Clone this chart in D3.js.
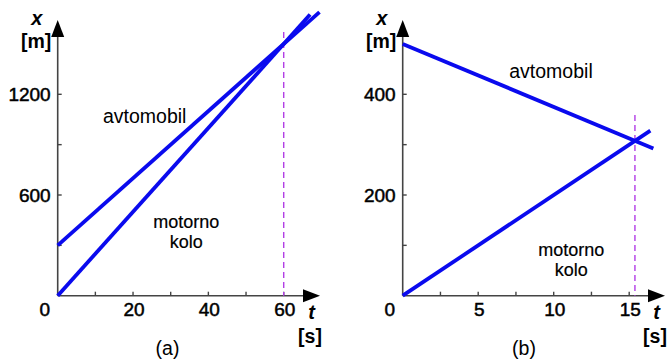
<!DOCTYPE html>
<html>
<head>
<meta charset="utf-8">
<script src="https://cdn.jsdelivr.net/npm/d3@7"></script>
<style>
  body { margin: 0; background: #fff; }
  svg { display: block; font-family: "Liberation Sans", Arial, sans-serif; }
  .tick-label { font-size: 19px; fill: #000; stroke: #000; stroke-width: 0.5px; }
  .name { font-size: 19.5px; fill: #000; }
  .name2 { font-size: 18px; fill: #000; stroke: #000; stroke-width: 0.2px; }
  .unit { font-size: 19.5px; font-weight: bold; fill: #000; }
  .var { font-size: 20px; font-weight: bold; font-style: italic; fill: #000; }
</style>
</head>
<body>
<script>
// panel (a): both move the same way
var aTicksX = [0, 20, 40, 60];
var aMinorX = [10, 30, 50];
var aTicksY = [0, 600, 1200];
var aMinorY = [300, 900];
var aCar = [[0, 300], [69.5, 1690]];
var aMoto = [[0, 0], [67, 1675]];
var aMeet = 60;

// panel (b): moving towards each other
var bTicksX = [0, 5, 10, 15];
var bMinorX = [2.5, 7.5, 12.5];
var bTicksY = [0, 200, 400];
var bMinorY = [100, 300];
var bCar = [[0, 500], [16.6, 292.5]];
var bMoto = [[0, 0], [16.4, 328]];
var bMeet = 15.38;

var W = 667, H = 363;
var svg = d3.select('body').append('svg').attr('width', W).attr('height', H);

function label(g, cls, x, y, txt, anchor) {
    return g.append('text').attr('class', cls)
        .attr('x', x).attr('y', y)
        .attr('text-anchor', anchor || 'middle').text(txt);
}

function drawPanel(cfg) {
    var g = svg.append('g');
    var x = d3.scaleLinear().domain(cfg.domX).range(cfg.rangeX);
    var y = d3.scaleLinear().domain(cfg.domY).range(cfg.rangeY);
    var x0 = x(0), y0 = y(0);

    // axes lines
    g.append('line').attr('x1', x0).attr('x2', cfg.arrowX - 12)
        .attr('y1', y0).attr('y2', y0)
        .attr('stroke', '#444').attr('stroke-width', 1.6);
    g.append('line').attr('x1', x0).attr('x2', x0)
        .attr('y1', y0).attr('y2', cfg.arrowY + 12)
        .attr('stroke', '#444').attr('stroke-width', 1.6);
    // arrow heads
    g.append('path')
        .attr('d', 'M' + cfg.arrowX + ',' + y0 + 'L' + (cfg.arrowX - 17) + ',' + (y0 - 6.5) +
            'L' + (cfg.arrowX - 17) + ',' + (y0 + 6.5) + 'Z')
        .attr('fill', '#000');
    g.append('path')
        .attr('d', 'M' + x0 + ',' + cfg.arrowY + 'L' + (x0 - 6.5) + ',' + (cfg.arrowY + 17) +
            'L' + (x0 + 6.5) + ',' + (cfg.arrowY + 17) + 'Z')
        .attr('fill', '#000');

    // ticks (inward)
    cfg.ticksX.concat(cfg.minorX).forEach(function (t) {
        if (t === 0) return;
        g.append('line').attr('x1', x(t)).attr('x2', x(t))
            .attr('y1', y0).attr('y2', y0 - 4)
            .attr('stroke', '#444').attr('stroke-width', 1.4);
    });
    cfg.ticksY.concat(cfg.minorY).forEach(function (t) {
        if (t === 0) return;
        g.append('line').attr('x1', x0).attr('x2', x0 + 4)
            .attr('y1', y(t)).attr('y2', y(t))
            .attr('stroke', '#444').attr('stroke-width', 1.4);
    });

    // tick labels
    cfg.ticksX.forEach(function (t) {
        if (t === 0) return;
        label(g, 'tick-label', x(t) + 1, y0 + 20, t);
    });
    label(g, 'tick-label', x0 - 13, y0 + 20, '0');
    cfg.ticksY.forEach(function (t) {
        if (t === 0) return;
        label(g, 'tick-label', x0 - 7, y(t) + 7, t, 'end');
    });

    // meeting time, dashed
    g.append('line')
        .attr('x1', x(cfg.meet)).attr('x2', x(cfg.meet))
        .attr('y1', cfg.dashTop).attr('y2', y0)
        .attr('stroke', '#b23ee6').attr('stroke-width', 1.4)
        .attr('stroke-dasharray', '6,4');

    var line = d3.line().x(function (d) { return x(d[0]); }).y(function (d) { return y(d[1]); });
    [cfg.car, cfg.moto].forEach(function (s) {
        g.append('path').attr('d', line(s))
            .attr('fill', 'none').attr('stroke', '#0a0aee')
            .attr('stroke-width', 3.8);
    });

    // axis names
    label(g, 'var', x0 - 21, 25, 'x');
    label(g, 'unit', x0 - 21.5, 48, '[m]');
    label(g, 'var', cfg.tX, 319, 't');
    label(g, 'unit', cfg.tX - 1.5, 343, '[s]');
    label(g, 'name', cfg.capX, 355, cfg.cap);

    // line names
    label(g, 'name', cfg.carLbl[0], cfg.carLbl[1], 'avtomobil');
    var moto = label(g, 'name2', cfg.motoLbl[0], cfg.motoLbl[1], null);
    moto.append('tspan').attr('x', cfg.motoLbl[0]).text('motorno');
    moto.append('tspan').attr('x', cfg.motoLbl[0]).attr('dy', 20.3).text('kolo');
}

drawPanel({
    domX: [0, 60], rangeX: [57.7, 283.7],
    domY: [0, 1200], rangeY: [295.7, 94.3],
    ticksX: aTicksX, minorX: aMinorX, ticksY: aTicksY, minorY: aMinorY,
    car: aCar, moto: aMoto, meet: aMeet, dashTop: 32,
    arrowX: 320, arrowY: 20, tX: 311.5, capX: 167.5, cap: '(a)',
    carLbl: [144.7, 123], motoLbl: [186.3, 228]
});

drawPanel({
    domX: [0, 15], rangeX: [402.7, 629.2],
    domY: [0, 400], rangeY: [295.7, 94.3],
    ticksX: bTicksX, minorX: bMinorX, ticksY: bTicksY, minorY: bMinorY,
    car: bCar, moto: bMoto, meet: bMeet, dashTop: 115,
    arrowX: 665, arrowY: 20, tX: 656.5, capX: 524, cap: '(b)',
    carLbl: [551, 77.5], motoLbl: [571.3, 255.5]
});
</script>
</body>
</html>
